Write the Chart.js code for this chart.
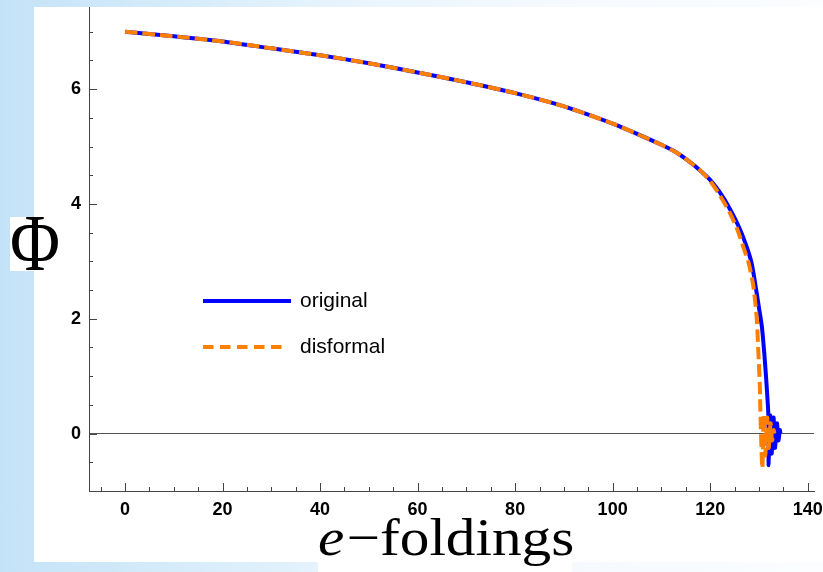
<!DOCTYPE html>
<html>
<head>
<meta charset="utf-8">
<script src="https://cdn.jsdelivr.net/npm/chart.js@4.4.0/dist/chart.umd.min.js"></script>
<style>
  html, body { margin: 0; padding: 0; }
  body {
    width: 823px; height: 572px; overflow: hidden;
    background: linear-gradient(to right, #c4e2f7 0%, #d6ecfa 22%, #eaf5fd 45%, #f6fafe 70%, #fbfdff 100%);
  }
  #wrap { position: absolute; left: 0; top: 0; width: 823px; height: 572px; }
</style>
</head>
<body>
<div id="wrap"><canvas id="phiChart" width="823" height="572"></canvas></div>
<script>
// e-foldings (N) and field value (Phi)
const originalN = [0, 10, 20, 30, 40, 50, 60, 70, 80, 90, 100, 105, 110, 113, 116, 118, 120, 122, 124, 126, 127.5, 128.5, 129.3, 130.0, 130.6, 131.1, 131.5, 131.8, 131.95,
  132.0, 132.3, 132.6, 133.0, 133.3, 133.7, 134.0, 134.3, 134.4];
const originalPhi = [7.0, 6.92, 6.83, 6.71, 6.59, 6.45, 6.29, 6.12, 5.93, 5.70, 5.40, 5.22, 5.03, 4.90, 4.72, 4.58, 4.42, 4.2, 3.92, 3.58, 3.25, 2.97, 2.58, 2.2, 1.87, 1.4, 0.94, 0.55, 0.3,
  -0.55, 0.32, -0.35, 0.28, -0.25, 0.18, -0.12, 0.06, 0.0];

const disformalN = [0, 10, 20, 30, 40, 50, 60, 70, 80, 90, 100, 105, 110, 113, 116, 118, 120, 122, 124, 125.5, 126.8, 127.9, 128.8, 129.3, 129.6, 129.95, 130.2, 130.3,
  130.7, 131.0, 131.3, 131.7, 132.0, 132.4, 132.7, 133.0, 133.2];
const disformalPhi = [7.0, 6.92, 6.83, 6.71, 6.59, 6.45, 6.29, 6.12, 5.93, 5.70, 5.40, 5.22, 5.03, 4.90, 4.72, 4.58, 4.40, 4.15, 3.85, 3.57, 3.25, 2.97, 2.6, 2.25, 1.95, 1.3, 0.8, 0.4,
  -0.6, 0.32, -0.38, 0.28, -0.25, 0.18, -0.12, 0.06, 0.0];

const xMajorTicks = [0, 20, 40, 60, 80, 100, 120, 140];
const yMajorTicks = [0, 2, 4, 6];
const xMinorStep = 5;
const yMinorStep = 0.5;

const seriesNames = ['original', 'disformal'];

function toPoints(xs, ys) {
  return xs.map((x, i) => ({ x: x, y: ys[i] }));
}

const frame = {
  id: 'frame',
  beforeDraw(chart) {
    const ctx = chart.ctx;
    ctx.save();
    ctx.fillStyle = '#ffffff';
    ctx.fillRect(34, 7, 789, 555);   // plot panel
    ctx.fillRect(10, 217, 24, 54);   // behind Phi
    ctx.fillRect(318, 562, 254, 10); // behind axis title
    ctx.restore();
  },
  beforeDatasetsDraw(chart) {
    const { ctx, chartArea } = chart;
    const x = chart.scales.x, y = chart.scales.y;
    ctx.save();
    ctx.strokeStyle = '#444';
    ctx.lineWidth = 1;
    ctx.beginPath();
    for (let v = -5; v <= x.max; v += xMinorStep) {
      const px = Math.round(x.getPixelForValue(v)) + 0.5;
      const len = xMajorTicks.includes(v) ? 8 : 4;
      ctx.moveTo(px, chartArea.bottom);
      ctx.lineTo(px, chartArea.bottom - len);
    }
    for (let v = -0.5; v <= y.max; v += yMinorStep) {
      const py = Math.round(y.getPixelForValue(v)) + 0.5;
      const len = yMajorTicks.includes(v) ? 8 : 4;
      ctx.moveTo(chartArea.left, py);
      ctx.lineTo(chartArea.left + len, py);
    }
    ctx.stroke();
    ctx.restore();
  },
  afterDraw(chart) {
    const ctx = chart.ctx;
    ctx.save();
    // legend inside plot
    const rows = [
      { ds: chart.data.datasets[1], y: 301, x1: 203, x2: 291, dash: [] },
      { ds: chart.data.datasets[0], y: 347, x1: 203, x2: 287, dash: [10.5, 6.5] }
    ];
    rows.forEach(r => {
      ctx.strokeStyle = r.ds.borderColor;
      ctx.lineWidth = 4;
      ctx.setLineDash(r.dash);
      ctx.beginPath();
      ctx.moveTo(r.x1, r.y);
      ctx.lineTo(r.x2, r.y);
      ctx.stroke();
      ctx.setLineDash([]);
      ctx.fillStyle = '#000';
      ctx.font = '21px "Liberation Sans", Arial, sans-serif';
      ctx.textBaseline = 'middle';
      ctx.textAlign = 'left';
      ctx.fillText(r.ds.label, 300, r.y);
    });

    // y title: Phi
    ctx.font = '66px "Liberation Serif", "Times New Roman", serif';
    ctx.textAlign = 'center';
    ctx.textBaseline = 'alphabetic';
    ctx.save();
    ctx.translate(35, 270);
    const phiW = ctx.measureText('\u03A6').width;
    ctx.scale(50 / phiW, 1.22);
    ctx.fillText('\u03A6', 0, 0);
    ctx.restore();

    // x title: e-foldings
    ctx.save();
    const italic = 'italic 52px "Liberation Serif", "Times New Roman", serif';
    const roman = '52px "Liberation Serif", "Times New Roman", serif';
    ctx.font = italic;
    const wE = ctx.measureText('e').width;
    ctx.font = roman;
    const wRest = ctx.measureText('\u2212foldings').width;
    const k = 254 / (wE + wRest);
    ctx.translate(318, 555);
    ctx.scale(k, 1);
    ctx.textAlign = 'left';
    ctx.font = italic;
    ctx.fillText('e', 0, 0);
    ctx.font = roman;
    ctx.fillText('\u2212foldings', wE + 2, 0);
    ctx.restore();

    ctx.restore();
  }
};

new Chart(document.getElementById('phiChart'), {
  type: 'scatter',
  data: {
    datasets: [{
      label: seriesNames[1],
      data: toPoints(disformalN, disformalPhi),
      showLine: true,
      borderColor: 'rgb(255,128,0)',
      borderWidth: 4,
      borderDash: [12.5, 5],
      pointRadius: 0,
      tension: 0.25,
      order: 0
    }, {
      label: seriesNames[0],
      data: toPoints(originalN, originalPhi),
      showLine: true,
      borderColor: 'rgb(0,0,255)',
      borderWidth: 4,
      pointRadius: 0,
      tension: 0.25,
      order: 1
    }]
  },
  options: {
    responsive: false,
    animation: false,
    devicePixelRatio: 1,
    layout: { padding: { left: 0, top: 7, right: 9, bottom: 0 } },
    plugins: {
      legend: { display: false },
      tooltip: { enabled: false }
    },
    scales: {
      x: {
        type: 'linear',
        min: -7.4,
        max: 141.3,
        afterFit: function(scale) {
          scale.height = 81;
          scale.paddingLeft = 0;
          scale.paddingRight = 0;
        },
        afterBuildTicks: function(scale) {
          scale.ticks = xMajorTicks.map(v => ({ value: v }));
        },
        border: { display: true, color: '#444', width: 1 },
        grid: { display: false, drawTicks: false },
        ticks: {
          padding: 8,
          color: '#000',
          maxRotation: 0,
          font: { family: 'Liberation Sans', size: 18, weight: 'bold' }
        }
      },
      y: {
        type: 'linear',
        min: -1,
        max: 7.43,
        afterFit: function(scale) {
          scale.width = 89;
          scale.paddingTop = 0;
          scale.paddingBottom = 0;
        },
        afterBuildTicks: function(scale) {
          scale.ticks = yMajorTicks.map(v => ({ value: v }));
        },
        border: { display: true, color: '#444', width: 1 },
        grid: {
          drawTicks: false,
          color: function(c) { return c.tick && c.tick.value === 0 ? '#555' : 'rgba(0,0,0,0)'; },
          lineWidth: 1
        },
        ticks: {
          padding: 8,
          color: '#000',
          font: { family: 'Liberation Sans', size: 18, weight: 'bold' }
        }
      }
    }
  },
  plugins: [frame]
});
</script>
</body>
</html>
